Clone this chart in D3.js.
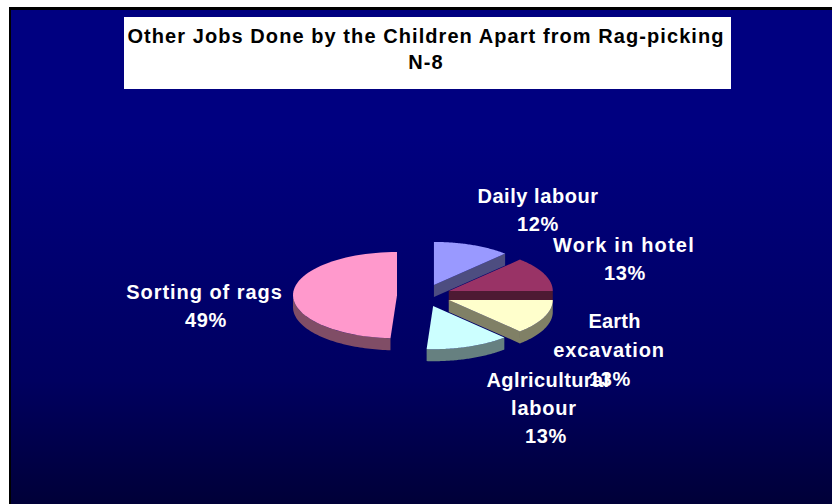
<!DOCTYPE html>
<html>
<head>
<meta charset="utf-8">
<script src="https://cdn.jsdelivr.net/npm/d3@7"></script>
<style>
html, body { margin: 0; padding: 0; background: #fff; }
svg { display: block; }
text { font-family: "Liberation Sans", Arial, sans-serif; font-weight: bold; }
</style>
</head>
<body>
<svg id="chart" width="832" height="504"></svg>
<script>
const categories = ["Daily labour", "Work in hotel", "Earth excavation", "Agricultural labour", "Sorting of rags"];
const shares = [12, 13, 13, 13, 49];
const topColors = ["#9999ff", "#993366", "#ffffcc", "#ccffff", "#ff99cc"];
const sideColors = ["#4d4d80", "#4d1a33", "#808066", "#668080", "#804d66"];
const titleLines = ["Other Jobs Done by the Children Apart from Rag-picking", "N-8"];
const labelLines = [
  "Daily labour", "12%",
  "Work in hotel", "13%",
  "Earth", "excavation", "13%",
  "Aglricultural", "labour", "13%",
  "Sorting of rags", "49%"
];
// Centre x, baseline y and letter spacing for each label line, in the same order.
const labelX = [538, 538, 624, 625, 614.5, 609, 610, 548, 544, 546, 204.5, 206];
const labelY = [203, 231, 252, 280, 328, 357, 386, 387, 415, 443, 299, 327];
const labelSpacing = [0.55, 0.6, 1.2, 0.6, 0.2, 0.8, 0.6, 0.4, 0.8, 0.6, 0.95, 0.6];
const drawOrder = [0, 1, 4, 2, 3];

const cx = 424, cy = 295.5, rx = 104, tilt = 0.415, depth = 12, explode = 27;

const svg = d3.select("#chart");

const grad = svg.append("defs").append("linearGradient")
  .attr("id", "bg").attr("x1", 0).attr("y1", 0).attr("x2", 0).attr("y2", 1);
grad.append("stop").attr("offset", "0%").attr("stop-color", "#000080");
grad.append("stop").attr("offset", "25%").attr("stop-color", "#000080");
grad.append("stop").attr("offset", "75%").attr("stop-color", "#000060");
grad.append("stop").attr("offset", "100%").attr("stop-color", "#000038");

svg.append("rect").attr("x", 9).attr("y", 7).attr("width", 823).attr("height", 497).attr("fill", "#000");
svg.append("rect").attr("x", 11).attr("y", 10).attr("width", 821).attr("height", 494).attr("fill", "url(#bg)");

// Slice angles come from the pie layout; 0 is straight up, clockwise.
const arcs = d3.pie().sort(null).value(d => d)(shares);

const project = (a, r = 1) => [r * rx * Math.sin(a), -r * rx * tilt * Math.cos(a)];
const rimAngles = (a0, a1) => d3.range(0, 61).map(i => a0 + (a1 - a0) * i / 60);
const line = d3.line();

const sliceLayer = svg.append("g");
drawOrder.forEach(i => {
  const s = arcs[i];
  const mid = (s.startAngle + s.endAngle) / 2;
  const off = project(mid, explode / rx);
  const g = sliceLayer.append("g")
    .attr("transform", `translate(${cx + off[0]},${cy + off[1]})`);

  // Outer wall: only the stretch of rim on the near half shows.
  const lo = Math.max(s.startAngle, Math.PI / 2);
  const hi = Math.min(s.endAngle, Math.PI * 1.5);
  if (hi > lo) {
    const rim = rimAngles(lo, hi).map(a => project(a));
    const drop = rim.slice().reverse().map(p => [p[0], p[1] + depth]);
    g.append("path").attr("d", line(rim.concat(drop)) + "Z").attr("fill", sideColors[i]);
  }
  // Cut face along the straight edge that looks toward the viewer.
  if (Math.sin(s.endAngle) > 0.01) {
    const p = project(s.endAngle);
    g.append("path")
      .attr("d", line([[0, 0], p, [p[0], p[1] + depth], [0, depth]]) + "Z")
      .attr("fill", sideColors[i]);
  }
  // Top face.
  const top = [[0, 0]].concat(rimAngles(s.startAngle, s.endAngle).map(a => project(a)));
  g.append("path").attr("d", line(top) + "Z").attr("fill", topColors[i]);
});

// Title box
svg.append("rect").attr("x", 124).attr("y", 17).attr("width", 607).attr("height", 72).attr("fill", "#fff");
svg.append("g").selectAll("text").data(titleLines).join("text")
  .attr("x", 426).attr("y", (d, i) => 43 + i * 25.5)
  .attr("text-anchor", "middle")
  .attr("font-size", 20).attr("letter-spacing", 1.07)
  .attr("fill", "#000").text(d => d);

// Slice labels
svg.append("g").selectAll("text").data(labelLines).join("text")
  .attr("x", (d, i) => labelX[i])
  .attr("y", (d, i) => labelY[i])
  .attr("text-anchor", "middle")
  .attr("font-size", 20)
  .attr("letter-spacing", (d, i) => labelSpacing[i])
  .attr("fill", "#fff").text(d => d);
</script>
</body>
</html>
